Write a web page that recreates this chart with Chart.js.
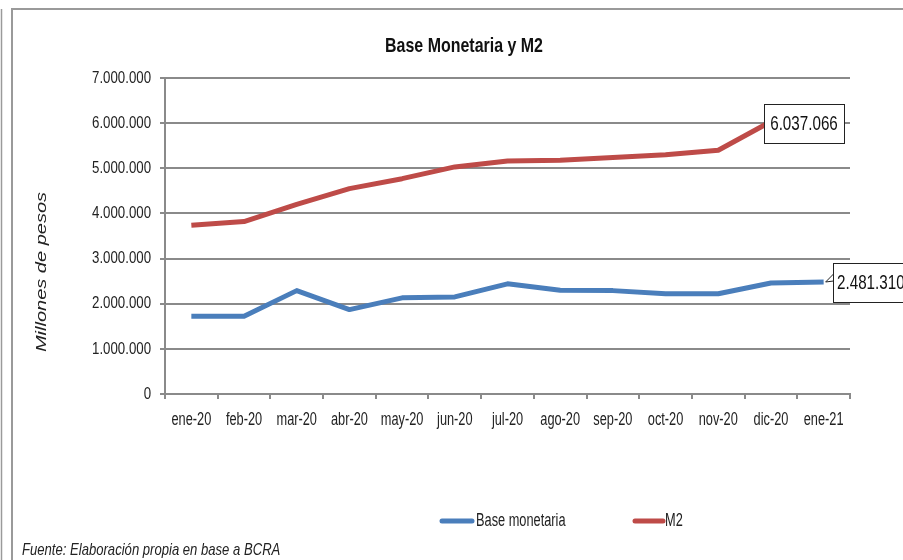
<!DOCTYPE html>
<html>
<head>
<meta charset="utf-8">
<script src="https://cdn.jsdelivr.net/npm/chart.js@4"></script>
<style>
  html, body { margin: 0; padding: 0; background: #fff; }
  #wrap { position: relative; width: 903px; height: 560px; }
</style>
</head>
<body>
<div id="wrap"><canvas id="moneyChart" width="903" height="560"></canvas></div>
<script>
  // datos (millones de pesos)
  const meses = ['ene-20', 'feb-20', 'mar-20', 'abr-20', 'may-20', 'jun-20', 'jul-20',
                 'ago-20', 'sep-20', 'oct-20', 'nov-20', 'dic-20', 'ene-21'];
  const baseMonetaria = [1720000, 1720000, 2290000, 1870000, 2130000, 2150000, 2440000,
                         2300000, 2290000, 2220000, 2220000, 2460000, 2481310];
  const m2 = [3740000, 3820000, 4200000, 4550000, 4770000, 5030000, 5160000,
              5180000, 5240000, 5300000, 5400000, 6037066, null];
  const yTicks = [0, 1000000, 2000000, 3000000, 4000000, 5000000, 6000000, 7000000];

  // no hay Arial Narrow: se comprime Liberation Sans a lo ancho
  const sans = '"Liberation Sans", Arial, sans-serif';
  const gridGray = '#8a8a8a';
  const azul = '#4a7ebb';
  const rojo = '#be4b48';

  function puntos(v) {
    return String(Math.round(v)).replace(/\B(?=(\d{3})+(?!\d))/g, '.');
  }

  function texto(ctx, s, x, y, font, align, sx) {
    ctx.save();
    ctx.font = font;
    ctx.textAlign = align;
    ctx.textBaseline = 'middle';
    ctx.translate(x, y);
    ctx.scale(sx, 1);
    ctx.fillText(s, 0, 0);
    ctx.restore();
  }

  const decor = {
    id: 'decor',
    beforeDraw(chart) {
      const ctx = chart.ctx;
      ctx.save();
      // marcos
      ctx.strokeStyle = '#9a9a9a';
      ctx.lineWidth = 2;
      ctx.beginPath();
      ctx.moveTo(12, 560); ctx.lineTo(12, 9); ctx.lineTo(903, 9);
      ctx.stroke();
      ctx.lineWidth = 1.5;
      ctx.beginPath();
      ctx.moveTo(1.5, 9); ctx.lineTo(1.5, 560);
      ctx.stroke();

      ctx.fillStyle = '#111';
      texto(ctx, 'Base Monetaria y M2', 464, 46, 'bold 21px ' + sans, 'center', 0.76);

      // titulo eje y
      ctx.save();
      ctx.translate(42, 272);
      ctx.rotate(-Math.PI / 2);
      ctx.scale(1.43, 1);
      ctx.font = 'italic 14px ' + sans;
      ctx.textAlign = 'center';
      ctx.textBaseline = 'middle';
      ctx.fillStyle = '#222';
      ctx.fillText('Millones de pesos', 0, 0);
      ctx.restore();

      // leyenda
      ctx.lineWidth = 5;
      ctx.lineCap = 'round';
      ctx.strokeStyle = azul;
      ctx.beginPath(); ctx.moveTo(442, 521); ctx.lineTo(472, 521); ctx.stroke();
      ctx.strokeStyle = rojo;
      ctx.beginPath(); ctx.moveTo(635, 521); ctx.lineTo(663, 521); ctx.stroke();
      ctx.fillStyle = '#222';
      texto(ctx, 'Base monetaria', 476, 521, '18px ' + sans, 'left', 0.71);
      texto(ctx, 'M2', 665, 521, '18px ' + sans, 'left', 0.71);

      texto(ctx, 'Fuente: Elaboración propia en base a BCRA', 22, 550, 'italic 17px ' + sans, 'left', 0.77);
      ctx.restore();
    },
    afterDatasetsDraw(chart) {
      const ctx = chart.ctx;
      const sx = chart.scales.x, sy = chart.scales.y;
      ctx.save();
      ctx.fillStyle = '#222';
      // etiquetas de los ejes
      meses.forEach((m, i) => {
        texto(ctx, m, sx.getPixelForTick(i), 420, '17.5px ' + sans, 'center', 0.73);
      });
      yTicks.forEach(v => {
        texto(ctx, puntos(v), 151, sy.getPixelForValue(v), '17px ' + sans, 'right', 0.78);
      });

      const font = '20px ' + sans;
      // etiqueta M2 dic-20
      const pm = chart.getDatasetMeta(1).data[11];
      let bx = Math.round(pm.x - 7), by = Math.round(pm.y - 17), bw = 80, bh = 39;
      ctx.fillStyle = '#fff';
      ctx.fillRect(bx, by, bw, bh);
      ctx.strokeStyle = '#222';
      ctx.lineWidth = 1;
      ctx.strokeRect(bx + 0.5, by + 0.5, bw, bh);
      ctx.fillStyle = '#111';
      texto(ctx, puntos(m2[11]), bx + bw / 2, by + bh / 2 + 1, font, 'center', 0.76);

      // etiqueta base ene-21
      const pb = chart.getDatasetMeta(0).data[12];
      bx = Math.round(pb.x + 9); by = Math.round(pb.y - 19);
      ctx.fillStyle = '#fff';
      ctx.fillRect(bx, by, bw, bh);
      ctx.beginPath();
      ctx.moveTo(bx + 0.5, by + 11);
      ctx.lineTo(pb.x + 2, pb.y);
      ctx.lineTo(bx + 0.5, by + 18);
      ctx.stroke();
      ctx.strokeRect(bx + 0.5, by + 0.5, bw, bh);
      ctx.fillStyle = '#fff';
      ctx.fillRect(bx + 1, by + 11, 2, 7);
      ctx.fillStyle = '#111';
      texto(ctx, puntos(baseMonetaria[12]), bx + 4, by + bh / 2 + 1, font, 'left', 0.76);
      ctx.restore();
    }
  };

  const ctx = document.getElementById('moneyChart').getContext('2d');
  const moneyChart = new Chart(ctx, {
    type: 'line',
    data: {
      labels: meses,
      datasets: [
        {
          label: 'Base monetaria',
          data: baseMonetaria,
          borderColor: azul,
          borderWidth: 5,
          borderJoinStyle: 'round',
          pointRadius: 0,
          tension: 0,
          fill: false
        },
        {
          label: 'M2',
          data: m2,
          borderColor: rojo,
          borderWidth: 5,
          borderJoinStyle: 'round',
          pointRadius: 0,
          tension: 0,
          fill: false
        }
      ]
    },
    options: {
      responsive: false,
      animation: false,
      events: [],
      layout: { padding: { left: 0, right: 53, top: 78, bottom: 0 } },
      plugins: {
        legend: { display: false },
        title: { display: false },
        tooltip: { enabled: false }
      },
      scales: {
        x: {
          offset: true,
          grid: {
            offset: true,
            drawOnChartArea: false,
            drawTicks: true,
            tickLength: 5,
            color: gridGray,
            lineWidth: 2
          },
          border: { color: gridGray, width: 2 },
          ticks: { display: false, autoSkip: false, maxRotation: 0 },
          afterFit(scale) { scale.height = 166; }
        },
        y: {
          min: 0,
          max: 7000000,
          afterBuildTicks(scale) { scale.ticks = yTicks.map(v => ({ value: v })); },
          grid: {
            color: gridGray,
            lineWidth: 2,
            drawTicks: true,
            tickLength: 5
          },
          border: { color: gridGray, width: 2 },
          ticks: { display: false },
          afterFit(scale) { scale.width = 165; }
        }
      }
    },
    plugins: [decor]
  });
</script>
</body>
</html>
